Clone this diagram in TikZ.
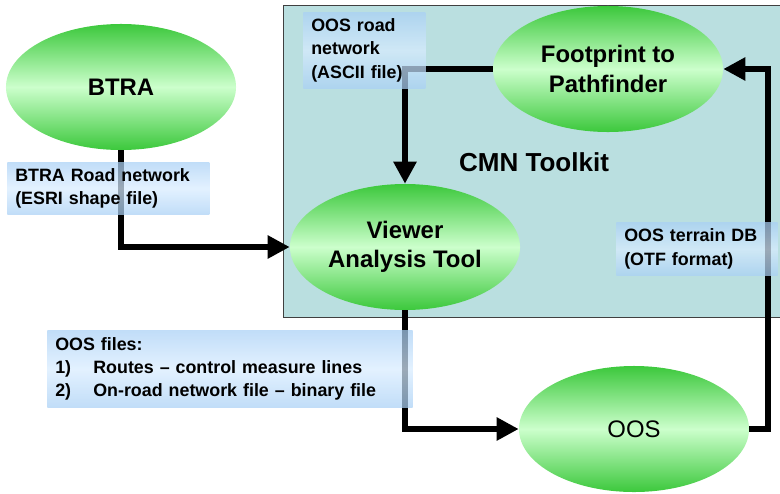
\documentclass[tikz,border=0pt]{standalone}
\usepackage{fontspec}
\setmainfont{Liberation Sans}
\usetikzlibrary{arrows.meta,shapes.geometric}

\definecolor{toolkitbg}{HTML}{BADFE0}
\definecolor{leafgreen}{HTML}{3CC83C}
\definecolor{palegreen}{HTML}{CCFFCC}
\definecolor{noteblue}{HTML}{A9D0F5}
\definecolor{notepale}{HTML}{D8ECFF}

\tikzset{
  tool/.style={ellipse,minimum width=5.75cm,minimum height=3.15cm,inner sep=0pt,
    top color=leafgreen,bottom color=leafgreen,middle color=palegreen,
    align=center,font=\bfseries\fontsize{17}{21}\selectfont},
  note/.style={anchor=north west,inner xsep=0.2cm,inner ysep=0pt,align=left,
    top color=noteblue,bottom color=noteblue,middle color=notepale,
    fill opacity=0.72,text opacity=1,
    font=\bfseries\fontsize{12.7}{16.5}\selectfont},
  flow/.style={line width=4.6pt,-{Triangle[length=0.55cm,width=0.55cm]}},
}

\begin{document}
\begin{tikzpicture}[x=0.025cm,y=-0.025cm]
  \useasboundingbox (0,0) rectangle (780,493);

  % toolkit area
  \begin{scope}
    \clip (0,0) rectangle (780,493);
    \draw[fill=toolkitbg,draw=black!75,line width=0.6pt] (283,5) rectangle (800,317);
  \end{scope}

  \begin{scope}[every node/.style={tool}]
    \node (btra)      at (121,87)  {BTRA};
    \node (footprint) at (608,69)  {Footprint to\\Pathfinder};
    \node (viewer)    at (405,247) {Viewer\\Analysis Tool};
    \node[font=\fontsize{17}{21}\selectfont] (oos) at (634,429) {OOS};
  \end{scope}

  \coordinate (riser) at (768,429);

  \draw[flow] (btra.south) |- (viewer.west);
  \draw[flow] (footprint.west) -| (viewer.north);
  \draw[flow] (viewer.south) |- (oos.west);
  \draw[flow] (oos.east) -- (riser) |- (footprint.east);

  \begin{scope}[every node/.style={note}]
    \node[text width=2.65cm,minimum height=1.9cm] (roadnet) at (303,12)
      {OOS road\\network\\(ASCII file)};
    \node[text width=4.65cm,minimum height=1.3cm] (btranet) at (7,162)
      {BTRA Road network\\(ESRI shape file)};
    \node[text width=3.63cm,minimum height=1.33cm] (terraindb) at (616,222)
      {OOS terrain DB\\(OTF format)};
    \node[text width=8.73cm,minimum height=1.93cm] (oosfiles) at (47,330)
      {OOS files:\\\makebox[0.95cm][l]{1)}Routes -- control measure lines\\
       \makebox[0.95cm][l]{2)}On-road network file -- binary file};
  \end{scope}

  \node[font=\bfseries\fontsize{18.5}{22}\selectfont] (cmn) at (534,162) {CMN Toolkit};

\end{tikzpicture}
\end{document}
